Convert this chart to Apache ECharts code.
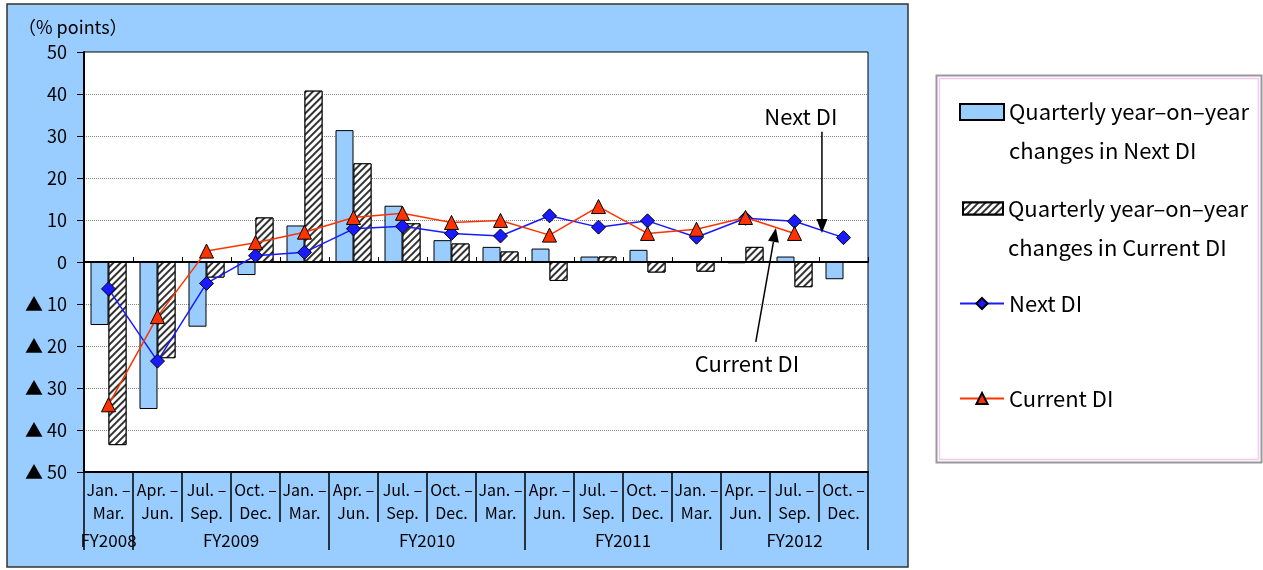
<!DOCTYPE html>
<html>
<head>
<meta charset="utf-8">
<script src="https://cdn.jsdelivr.net/npm/echarts@6/dist/echarts.min.js"></script>
<style>html,body{margin:0;padding:0;background:#fff}#c{width:1263px;height:570px}</style>
</head>
<body>
<div id="c"></div>
<script>
// ---- data ----
const quarterLabels = ['Jan. –\nMar.','Apr. –\nJun.','Jul. –\nSep.','Oct. –\nDec.','Jan. –\nMar.','Apr. –\nJun.','Jul. –\nSep.','Oct. –\nDec.','Jan. –\nMar.','Apr. –\nJun.','Jul. –\nSep.','Oct. –\nDec.','Jan. –\nMar.','Apr. –\nJun.','Jul. –\nSep.','Oct. –\nDec.'];
const fiscalYears = ['FY2008','FY2009','FY2010','FY2011','FY2012'];
const quartersPerFY = [1,4,4,4,3];
const nextChange = [-15.0,-35.0,-15.4,-3.1,8.7,31.4,13.4,5.2,3.6,3.2,1.3,2.9,0,-0.3,1.3,-4.1];
const currentChange = [-43.6,-22.9,-3.7,10.6,40.8,23.5,9.2,4.4,2.5,-4.5,1.3,-2.5,-2.3,3.6,-6.0,null];
const nextDI = [-6.4,-23.6,-5.1,1.5,2.3,7.9,8.5,6.8,6.2,11.0,8.3,9.8,5.9,10.4,9.7,5.8];
const currentDI = [-34.0,-13.0,2.6,4.6,7.1,10.6,11.6,9.4,9.9,6.4,13.2,6.8,7.8,10.6,6.8,null];
const yTicks = {min:-50, max:50, interval:10};
const seriesNames = ['Quarterly year–on–year\nchanges in Next DI','Quarterly year–on–year\nchanges in Current DI','Next DI','Current DI'];

// half-step axis for fiscal-year groups
const halfCount = quarterLabels.length * 2 + 1;
const fyAxisLabels = new Array(halfCount).fill('');
const fyBoundaries = [0];
let acc = 0;
fiscalYears.forEach((fy, k) => {
  fyAxisLabels[acc * 2 + quartersPerFY[k]] = fy;
  acc += quartersPerFY[k];
  fyBoundaries.push(acc * 2);
});

const FONT = "'Noto Sans CJK JP', sans-serif";
const chart = echarts.init(document.getElementById('c'), null, {renderer:'canvas'});

const hatch = {symbol:'rect', symbolSize:1, rotation:-Math.PI/4, dashArrayX:[1,0], dashArrayY:[1.1,2.3], color:'#333', backgroundColor:'#fff'};

function legendCfg(name, top, left, w, h, extra) {
  return Object.assign({
    data:[name], left:left, top:top, orient:'vertical', padding:0,
    itemWidth:w, itemHeight:h, itemGap:0,
    formatter:(n) => n.indexOf('\n') >= 0 ? '\n' + n : n,
    textStyle:{fontFamily:FONT, fontSize:22, color:'#000', lineHeight:39},
    selectedMode:false
  }, extra || {});
}

chart.setOption({
  backgroundColor:'#fff',
  animation:false,
  textStyle:{fontFamily:FONT},
  title:{text:'（% points）', left:13, top:13, textStyle:{fontFamily:FONT, fontSize:18, fontWeight:'normal', color:'#000'}},
  grid:{left:84, top:52, right:395, bottom:98, show:true, backgroundColor:'#fff', borderColor:'#000', borderWidth:1, z:0},
  legend:[
    legendCfg(seriesNames[0], 53.5, 959, 44, 16, {icon:'rect'}),
    legendCfg(seriesNames[1], 150, 962, 40, 12, {icon:'rect'}),
    legendCfg(seriesNames[2], 284, 959, 44, 14),
    legendCfg(seriesNames[3], 379, 959, 44, 14)
  ],
  xAxis:[
    {type:'category', data:quarterLabels, position:'bottom',
     axisLine:{onZero:false, lineStyle:{color:'#000', width:2}},
     axisTick:{show:true, interval:0, length:50, lineStyle:{color:'#000', width:1.5}},
     axisLabel:{interval:0, fontFamily:FONT, fontSize:16, lineHeight:23, margin:6, color:'#000'},
     splitLine:{show:false}},
    {type:'category', data:fyAxisLabels, position:'bottom', boundaryGap:false,
     axisLine:{show:false, onZero:false},
     axisTick:{show:true, length:78, interval:(i) => fyBoundaries.indexOf(i) >= 0, lineStyle:{color:'#000', width:1.5}},
     axisLabel:{interval:0, fontFamily:FONT, fontSize:17, margin:60, color:'#000'},
     splitLine:{show:false}},
    {type:'category', data:quarterLabels, position:'bottom',
     axisLine:{onZero:true, lineStyle:{color:'#000', width:2}},
     axisTick:{show:true, inside:true, interval:0, length:5, lineStyle:{color:'#000', width:1}},
     axisLabel:{show:false}, splitLine:{show:false}}
  ],
  yAxis:{type:'value', min:yTicks.min, max:yTicks.max, interval:yTicks.interval,
    axisLine:{show:true, onZero:false, lineStyle:{color:'#000', width:2}},
    axisTick:{show:true, length:7, lineStyle:{color:'#000'}},
    axisLabel:{fontFamily:FONT, fontSize:18, color:'#000', margin:17,
      formatter:(v) => v < 0 ? '▲ ' + (-v) : String(v)},
    splitLine:{show:true, lineStyle:{color:'#888', type:'dotted', width:1}}
  },
  series:[
    {name:seriesNames[0], type:'bar', data:nextChange, barWidth:18, barGap:'0%',
     itemStyle:{color:'#99CCFF', borderColor:'#000', borderWidth:1}},
    {name:seriesNames[1], type:'bar', data:currentChange, barWidth:18, barGap:'0%',
     itemStyle:{color:'#fff', borderColor:'#000', borderWidth:1, decal:hatch}},
    {name:seriesNames[2], type:'line', data:nextDI, symbol:'diamond', symbolSize:14,
     lineStyle:{color:'#1A1AFF', width:1.5},
     itemStyle:{color:'#1A1AFF', borderColor:'#000', borderWidth:1}, z:3},
    {name:seriesNames[3], type:'line', data:currentDI, symbol:'triangle', symbolSize:14,
     lineStyle:{color:'#FF3300', width:1.5},
     itemStyle:{color:'#FF3300', borderColor:'#000', borderWidth:1}, z:4}
  ]
});

// ---- annotations positioned through the axes ----
function px(i, v) {
  const a = chart.convertToPixel({xAxisIndex:0, yAxisIndex:0}, [0, v]);
  const b = chart.convertToPixel({xAxisIndex:0, yAxisIndex:0}, [1, v]);
  return [a[0] + (b[0] - a[0]) * i, a[1]];
}
function arrow(from, to) {
  const dx = to[0] - from[0], dy = to[1] - from[1];
  const L = Math.sqrt(dx*dx + dy*dy), ux = dx / L, uy = dy / L;
  const hl = 14, hw = 5.5;
  const bx = to[0] - ux * hl, by = to[1] - uy * hl;
  return [
    {type:'line', shape:{x1:from[0], y1:from[1], x2:bx, y2:by}, style:{stroke:'#000', lineWidth:1.5}, z:50},
    {type:'polygon', shape:{points:[[to[0], to[1]], [bx - uy*hw, by + ux*hw], [bx + uy*hw, by - ux*hw]]}, style:{fill:'#000'}, z:50}
  ];
}
const nStart = px(14.56, 31), nEnd = px(14.56, 6.9);
const cStart = px(13.21, -19), cEnd = px(13.62, 8.1);
const nText = px(14.13, 34.5), cText = px(13.03, -24.3);

chart.setOption({
  graphic:[
    {type:'rect', shape:{x:7, y:4, width:901, height:563}, style:{fill:'#99CCFF', stroke:'#333', lineWidth:1.5}, z:-100, silent:true},
    {type:'rect', shape:{x:936.5, y:75.5, width:325, height:387}, style:{fill:'#fff', stroke:'#999', lineWidth:2}, z:-100, silent:true},
    {type:'rect', shape:{x:939.5, y:78.5, width:319, height:381}, style:{fill:'none', stroke:'#F3C8F3', lineWidth:1.5}, z:-99, silent:true},
    {type:'text', x:nText[0], y:nText[1], style:{text:'Next DI', font:"22px " + FONT, fill:'#000', align:'center', verticalAlign:'middle'}, z:50},
    {type:'text', x:cText[0], y:cText[1], style:{text:'Current DI', font:"22px " + FONT, fill:'#000', align:'center', verticalAlign:'middle'}, z:50}
  ].concat(arrow(nStart, nEnd)).concat(arrow(cStart, cEnd))
});
</script>
</body>
</html>
